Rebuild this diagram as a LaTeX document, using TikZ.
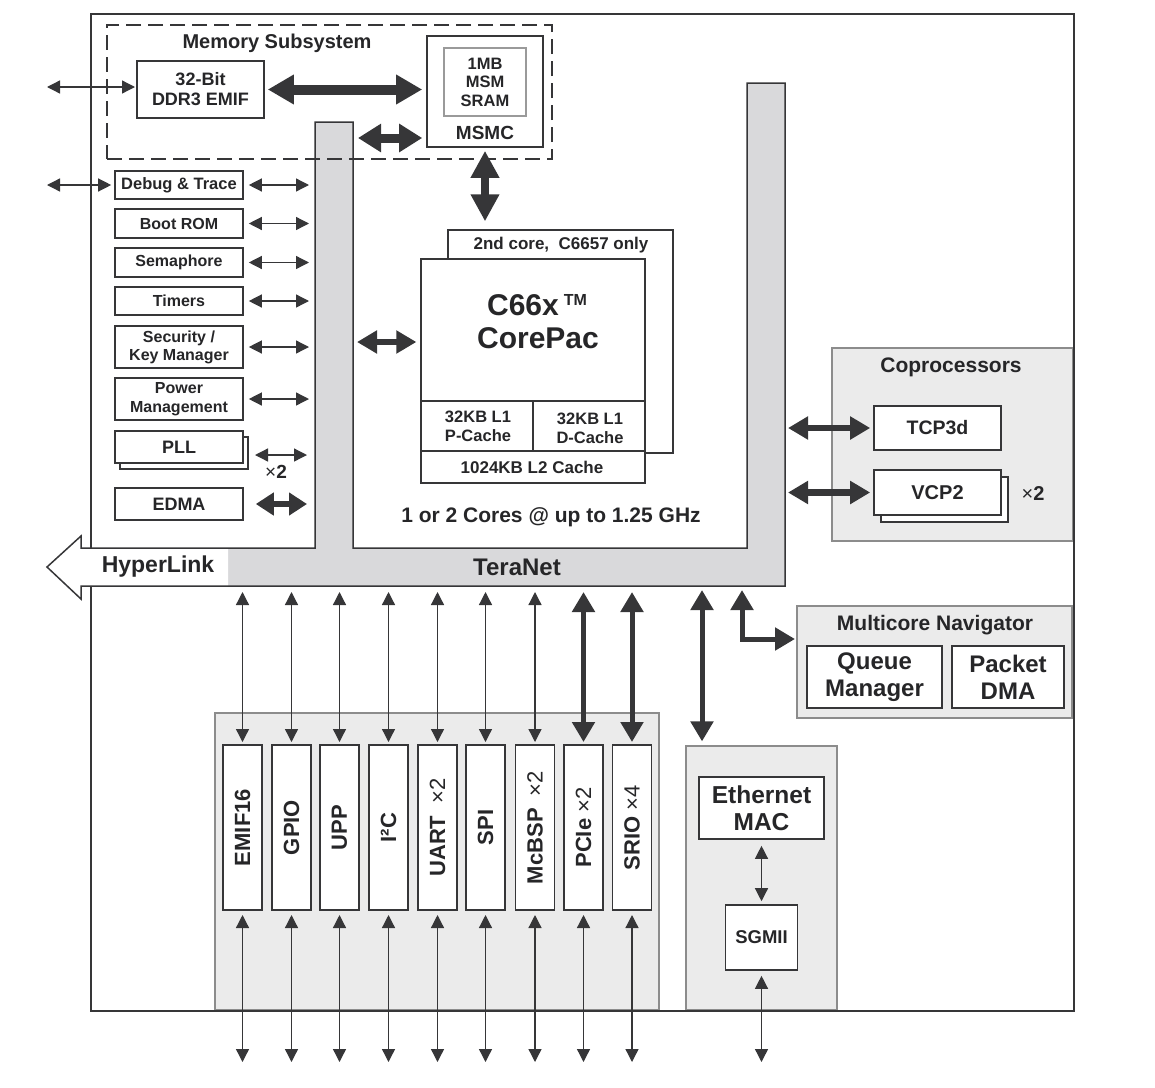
\documentclass[tikz,border=0pt]{standalone}
\usepackage{fontspec}
\setmainfont{Liberation Sans}
\usetikzlibrary{arrows.meta}
\definecolor{txt}{HTML}{262628}
\definecolor{ln}{HTML}{363638}
\definecolor{tngray}{HTML}{D9D9DB}
\definecolor{grpfill}{HTML}{EBEBEB}
\definecolor{grpline}{HTML}{8C8C8C}
\definecolor{sramline}{HTML}{9A9A9A}
\newcommand{\fsz}[2]{\fontsize{#1}{#2}\selectfont\bfseries}
\begin{document}
\begin{tikzpicture}[x=1pt,y=-1pt,
  box/.style={draw=ln, line width=1.6pt, fill=white, inner sep=0pt, align=center, text=txt},
  grp/.style={draw=grpline, fill=grpfill, line width=1.2pt, inner sep=0pt},
  lbl/.style={inner sep=0pt, align=center, text=txt},
  thinarr/.style={draw=ln, line width=1.3pt, {Triangle[length=13pt,width=13pt]}-{Triangle[length=13pt,width=13pt]}},
  bigarr/.style={draw=ln, line width=10pt, {Triangle[length=26pt,width=28pt]}-{Triangle[length=26pt,width=28pt]}},
  medarr/.style={draw=ln, line width=6.5pt, {Triangle[length=20pt,width=22pt]}-{Triangle[length=20pt,width=22pt]}},
  midarr/.style={draw=ln, line width=5pt, line join=miter, {Triangle[length=20pt,width=22pt]}-{Triangle[length=20pt,width=22pt]}},
  edarr/.style={draw=ln, line width=6pt, {Triangle[length=18pt,width=22pt]}-{Triangle[length=18pt,width=22pt]}}
]
\useasboundingbox (0,0) rectangle (1155,1087);

% ---------- groups (background) ----------
\node[grp, minimum width=241pt, minimum height=193pt] (copro) at (952.5,444.5) {};
\node[grp, minimum width=275pt, minimum height=112pt] (mcn) at (934.5,662) {};
\node[grp, minimum width=444pt, minimum height=297pt] (pergrp) at (437,861.5) {};
\node[grp, minimum width=151pt, minimum height=264pt] (ethgrp) at (761.5,878) {};

% ---------- outer border ----------
\draw[ln, line width=1.5pt] (91,14) rectangle (1074,1011);

% ---------- TeraNet + HyperLink ----------
\fill[tngray] (81,548) -- (315,548) -- (315,122) -- (353,122) -- (353,548) -- (747,548)
  -- (747,83) -- (785,83) -- (785,586) -- (81,586) -- (81,599) -- (47,567) -- (81,536) -- cycle;
\begin{scope}
  \clip (0,500) rectangle (228,620);
  \fill[white] (81,548) -- (315,548) -- (315,586) -- (81,586) -- (81,599) -- (47,567) -- (81,536) -- cycle;
\end{scope}
\draw[ln, line width=1.5pt, line join=miter] (81,548) -- (315,548) -- (315,122) -- (353,122) -- (353,548) -- (747,548)
  -- (747,83) -- (785,83) -- (785,586) -- (81,586) -- (81,599) -- (47,567) -- (81,536) -- cycle;
\node[lbl, font=\fsz{23}{25}] (hyper) at (158,567) {HyperLink};
\node[lbl, font=\fsz{24}{26}] (teranet) at (517,567) {TeraNet};

\coordinate (tnLL) at (315,0);
\coordinate (tnLR) at (353,0);
\coordinate (tnR) at (785,0);
\coordinate (tnB) at (0,586);
\coordinate (farL) at (47,0);
\coordinate (botY) at (0,1062);
\coordinate (pTop) at (0,745);
\coordinate (pBot) at (0,910);

% ---------- Memory subsystem ----------
\node[draw=ln, line width=1.5pt, dash pattern=on 15pt off 7pt, minimum width=445pt, minimum height=134pt, inner sep=0pt] (memsub) at (329.5,92) {};
\node[lbl, font=\fsz{20}{22}] (memt) at (277,43) {Memory Subsystem};
\node[box, minimum width=127pt, minimum height=57pt, font=\fsz{18}{20}] (ddr) at (200.5,89.5) {32-Bit\\DDR3 EMIF};
\node[box, minimum width=116pt, minimum height=111pt] (msmc) at (485,91.5) {};
\node[box, draw=sramline, line width=1.2pt, minimum width=82pt, minimum height=68pt, font=\fsz{16.5}{18.5}] (sram) at (485,82) {1MB\\MSM\\SRAM};
\node[lbl, font=\fsz{19}{21}] (msmct) at (485,133) {MSMC};

\coordinate (ddrl) at (137,87);
\draw[thinarr, shorten >=2pt] (ddrl -| farL) -- (ddrl);
\draw[bigarr, shorten <=3pt, shorten >=4pt] (ddr.east) -- (ddr.east -| msmc.west);
\coordinate (ms2) at (353,138);
\draw[bigarr, line width=9pt, {Triangle[length=23pt,width=27pt]}-{Triangle[length=23pt,width=27pt]}, shorten <=5pt, shorten >=4pt] (ms2) -- (ms2 -| msmc.west);

% ---------- left peripherals ----------
\node[box, minimum width=128pt, minimum height=28pt, font=\fsz{16.5}{18}] (debug) at (179,185) {Debug \& Trace};
\node[box, minimum width=128pt, minimum height=29pt, font=\fsz{16}{18}] (boot) at (179,223.5) {Boot ROM};
\node[box, minimum width=128pt, minimum height=29pt, font=\fsz{16}{18}] (sema) at (179,262.5) {Semaphore};
\node[box, minimum width=128pt, minimum height=28pt, font=\fsz{16}{18}] (timers) at (179,301) {Timers};
\node[box, minimum width=128pt, minimum height=42pt, font=\fsz{16}{18}] (secu) at (179,347) {Security /\\Key Manager};
\node[box, minimum width=128pt, minimum height=42pt, font=\fsz{16}{19}] (power) at (179,399) {Power\\Management};
\node[box, minimum width=128pt, minimum height=32pt] (pllsh) at (184,453) {};
\node[box, minimum width=128pt, minimum height=32pt, font=\fsz{18}{20}] (pll) at (179,447) {PLL};
\node[box, minimum width=128pt, minimum height=32pt, font=\fsz{18}{20}] (edma) at (179,504) {EDMA};

\draw[thinarr, shorten >=3pt] (debug.west -| farL) -- (debug.west);
\foreach \n in {debug,boot,sema,timers,secu,power}
  \draw[thinarr, shorten <=5pt, shorten >=6pt] (\n.east) -- (\n.east -| tnLL);
\coordinate (pllar) at (243,455);
\draw[thinarr, shorten <=12pt, shorten >=8pt] (pllar) -- (pllar -| tnLL);
\node[lbl, font=\fsz{19}{21}] (pllx) at (276,472) {{\mdseries ×}2};
\draw[edarr, shorten <=12pt, shorten >=8pt] (edma.east) -- (edma.east -| tnLL);

% ---------- cores ----------
\node[box, line width=1.3pt, minimum width=225pt, minimum height=223pt] (core2) at (560.5,341.5) {};
\node[lbl, font=\fsz{17}{19}] (core2t) at (561,245) {2nd core,\ \ C6657 only};
\node[box, line width=1.3pt, minimum width=224pt, minimum height=224pt] (core) at (533,371) {};
\draw[ln, line width=1.3pt] (421,401) -- (645,401);
\draw[ln, line width=1.3pt] (421,451) -- (645,451);
\draw[ln, line width=1.3pt] (533,401) -- (533,451);
\node[lbl, font=\fsz{30}{34}] (c66) at (537,305) {C66x\,{\fontsize{16}{16}\selectfont\raisebox{9.5pt}{TM}}};
\node[lbl, font=\fsz{30}{34}] (cpac) at (538,338) {CorePac};
\node[lbl, font=\fsz{16.5}{19}] (l1p) at (478,426) {32KB L1\\P-Cache};
\node[lbl, font=\fsz{16.5}{19}] (l1d) at (590,428) {32KB L1\\D-Cache};
\node[lbl, font=\fsz{17}{19}] (l2) at (532,467) {1024KB L2 Cache};
\node[lbl, font=\fsz{21}{23}] (cores) at (551,517) {1 or 2 Cores @ up to 1.25 GHz};

\draw[bigarr, line width=8pt, {Triangle[length=27pt,width=27pt]}-{Triangle[length=27pt,width=27pt]}, shorten <=3pt, shorten >=8pt] (msmc.south) -- (msmc.south |- core2.north);
\coordinate (ca) at (353,342);
\draw[medarr, shorten <=4pt, shorten >=4pt] (ca) -- (ca -| core.west);

% ---------- coprocessors ----------
\node[lbl, font=\fsz{21}{23}] (coprot) at (951,367) {Coprocessors};
\node[box, minimum width=127pt, minimum height=44pt, font=\fsz{19.5}{21}] (tcp) at (937.5,428) {TCP3d};
\node[box, minimum width=127pt, minimum height=45pt] (vcpsh) at (944.5,499.5) {};
\node[box, minimum width=127pt, minimum height=45pt, font=\fsz{20}{22}] (vcp) at (937.5,492.5) {VCP2};
\node[lbl, font=\fsz{20}{22}] (vcpx) at (1033,494) {{\mdseries ×}2};
\draw[medarr, shorten <=3pt, shorten >=3pt] (tcp.west -| tnR) -- (tcp.west);
\draw[medarr, shorten <=3pt, shorten >=3pt] (vcp.west -| tnR) -- (vcp.west);

% ---------- multicore navigator ----------
\node[lbl, font=\fsz{21}{23}] (mcnt) at (935,625) {Multicore Navigator};
\node[box, minimum width=135pt, minimum height=62pt, font=\fsz{24}{27}] (qm) at (874.5,677) {Queue\\Manager};
\node[box, minimum width=112pt, minimum height=62pt, font=\fsz{24}{27}] (pdma) at (1008,677) {Packet\\DMA};
\coordinate (mc1) at (742,586);
\coordinate (mcin) at (797,639);
\draw[midarr, shorten <=4pt, shorten >=2pt] (mc1) |- (mcin);

% ---------- ethernet ----------
\node[box, minimum width=125pt, minimum height=62pt, font=\fsz{24.5}{27}] (emac) at (761.5,808) {Ethernet\\MAC};
\node[box, minimum width=72pt, minimum height=65pt, font=\fsz{18.5}{20}] (sgmii) at (761.5,937.5) {SGMII};
\coordinate (eth1) at (702,586);
\draw[midarr, shorten <=4pt, shorten >=4pt] (eth1) -- (ethgrp.north -| eth1);
\draw[thinarr, shorten <=6pt, shorten >=3pt] (emac.south) -- (sgmii.north);
\draw[thinarr, shorten <=5pt] (sgmii.south) -- (sgmii.south |- botY);

% ---------- bottom peripherals ----------
\node[box, rotate=90, minimum width=165pt, minimum height=39pt, font=\fsz{22}{24}] (emif) at (242.5,827.5) {EMIF16};
\node[box, rotate=90, minimum width=165pt, minimum height=39pt, font=\fsz{22}{24}] (gpio) at (291.5,827.5) {GPIO};
\node[box, rotate=90, minimum width=165pt, minimum height=39pt, font=\fsz{22}{24}] (upp) at (339.5,827.5) {UPP};
\node[box, rotate=90, minimum width=165pt, minimum height=39pt, font=\fsz{22}{24}] (iic) at (388.5,827.5) {I²C};
\node[box, rotate=90, minimum width=165pt, minimum height=39pt, font=\fsz{22}{24}] (uart) at (437.5,827.5) {UART\ \ {\mdseries ×2}};
\node[box, rotate=90, minimum width=165pt, minimum height=39pt, font=\fsz{22}{24}] (spi) at (485.5,827.5) {SPI};
\node[box, rotate=90, minimum width=165pt, minimum height=39pt, font=\fsz{22}{24}] (mcbsp) at (535,827.5) {McBSP\ \ {\mdseries ×2}};
\node[box, rotate=90, minimum width=165pt, minimum height=39pt, font=\fsz{22}{24}] (pcie) at (583.5,827.5) {PCIe\ {\mdseries ×2}};
\node[box, rotate=90, minimum width=165pt, minimum height=39pt, font=\fsz{22}{24}] (srio) at (632,827.5) {SRIO\ {\mdseries ×4}};

\foreach \n in {emif,gpio,upp,iic,uart,spi,mcbsp}
  \draw[thinarr, shorten <=6pt, shorten >=3pt] (tnB -| \n) -- (pTop -| \n);
\foreach \n in {pcie,srio}
  \draw[midarr, shorten <=6pt, shorten >=3pt] (tnB -| \n) -- (pTop -| \n);
\foreach \n in {emif,gpio,upp,iic,uart,spi,mcbsp,pcie,srio}
  \draw[thinarr, shorten <=5pt] (pBot -| \n) -- (botY -| \n);
\end{tikzpicture}
\end{document}
